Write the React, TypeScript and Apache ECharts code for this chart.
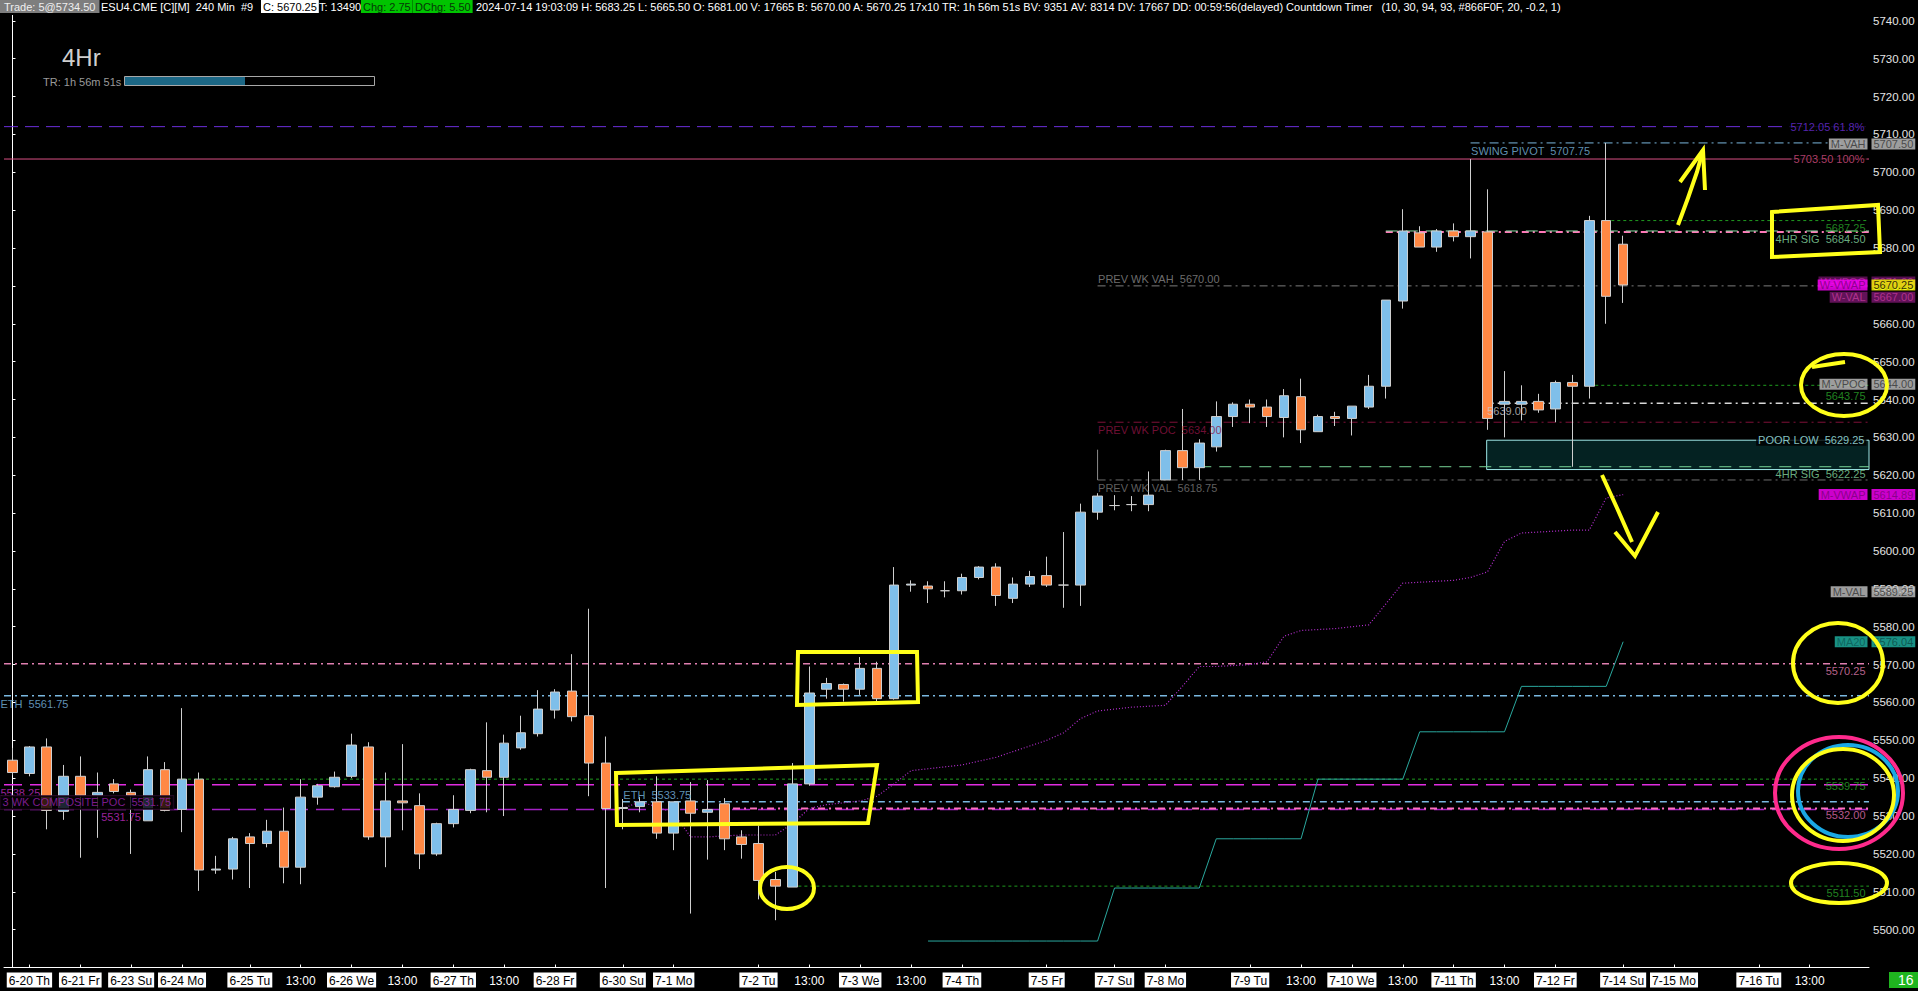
import React, { useEffect, useRef } from 'react';
import * as echarts from 'echarts';

const FONT = "'Liberation Sans Narrow', 'Arial Narrow', 'Liberation Sans', Arial, sans-serif";
const FS = 11;
const SLOT_COUNT = 110;
const RIGHT = SLOT_COUNT - 0.5;

// ---------- x axis labels (bar slot index -> label) ----------
const xTickSlots = [1, 4, 7, 10, 14, 17, 20, 23, 26, 29, 32, 36, 39, 44, 47, 50, 53, 56, 61, 65, 68, 73, 76, 79, 82, 85, 88, 91, 95, 98, 103, 106];
const xTickLabels = ['6-20 Th', '6-21 Fr', '6-23 Su', '6-24 Mo', '6-25 Tu', '13:00', '6-26 We', '13:00', '6-27 Th', '13:00', '6-28 Fr', '6-30 Su', '7-1 Mo', '7-2 Tu', '13:00', '7-3 We', '13:00', '7-4 Th', '7-5 Fr', '7-7 Su', '7-8 Mo', '7-9 Tu', '13:00', '7-10 We', '13:00', '7-11 Th', '13:00', '7-12 Fr', '7-14 Su', '7-15 Mo', '7-16 Tu', '13:00'];

// ---------- 240 min OHLC ----------
const opens = [5544.75, 5541.25, 5548.25, 5531.25, 5540.5, 5535.5, 5538.5, 5536.25, 5528.75, 5542.25, 5531.75, 5539.75, 5515.75, 5516, 5524.5, 5522.75, 5526, 5516.5, 5535, 5537.75, 5540.5, 5548.25, 5524.5, 5534, 5532.75, 5520, 5528, 5531.5, 5542, 5540.25, 5548, 5551.75, 5558, 5563, 5556.5, 5544, 5532, 5532.5, 5533.75, 5525.5, 5534, 5531, 5533.25, 5524.5, 5522.75, 5513.25, 5511.25, 5538.5, 5563.5, 5564.75, 5563.5, 5569, 5561, 5591, 5590.75, 5589.5, 5589.5, 5593, 5595.75, 5587.5, 5591.25, 5593.5, 5591, 5591, 5610.25, 5612, 5612.25, 5612.25, 5618.75, 5626.5, 5622, 5627.5, 5635.5, 5638.75, 5638, 5635.25, 5640.75, 5631.5, 5635.5, 5635, 5638, 5643.5, 5666, 5684, 5680.25, 5684.5, 5683, 5684.25, 5638.75, 5638.75, 5639.5, 5637.5, 5644.5, 5643.5, 5687.25, 5681];
const closes = [5541.5, 5548.25, 5531.5, 5540.5, 5535.5, 5536.25, 5536.5, 5535.5, 5542.25, 5531.5, 5539.75, 5515.75, 5516, 5524, 5522.75, 5526, 5516.5, 5535, 5538, 5540.25, 5548.75, 5524.5, 5534, 5533.5, 5520, 5528, 5531.75, 5542.25, 5540.25, 5549.25, 5552, 5558.25, 5562.75, 5556.25, 5544, 5532, 5532.25, 5533.75, 5525.5, 5533.75, 5530.75, 5531.75, 5524, 5522.5, 5513, 5511.5, 5538.5, 5562.5, 5565, 5563.5, 5569, 5561, 5591, 5591.25, 5590, 5589.5, 5593, 5595.75, 5588.25, 5591.25, 5593.25, 5591, 5591, 5610.25, 5614.5, 5612, 5612.25, 5614.75, 5626.5, 5622, 5628.5, 5635.5, 5638.75, 5638, 5635.5, 5641, 5632, 5635.5, 5635, 5638.25, 5643.5, 5666.25, 5684.5, 5680.25, 5684.5, 5683, 5684.5, 5635, 5639.5, 5639.5, 5637.25, 5644.5, 5643.5, 5687.25, 5667.25, 5670.25];
const lows = [5540.75, 5540.5, 5526.5, 5529, 5519, 5524.25, 5536, 5520, 5528.75, 5531.25, 5525.75, 5510.25, 5514.75, 5513.25, 5511, 5521.75, 5512.25, 5512, 5533, 5537.5, 5540, 5523.75, 5516.5, 5526.25, 5516, 5519.5, 5527, 5530.75, 5531, 5530, 5547.5, 5551, 5555.75, 5555, 5535.25, 5511, 5526.5, 5531, 5524, 5521, 5504.25, 5518.5, 5521, 5518.75, 5508, 5502.5, 5511.25, 5538, 5561, 5560.25, 5562, 5560.25, 5560.75, 5589.25, 5586.25, 5587.75, 5588.5, 5592.5, 5585.5, 5586.25, 5590.5, 5590.5, 5585, 5585.5, 5608.25, 5610.75, 5610.5, 5610.5, 5618.75, 5618.75, 5618.75, 5626.25, 5632.75, 5633.75, 5632.75, 5630, 5628.5, 5631.5, 5633, 5630.5, 5637.5, 5640.25, 5664, 5680.25, 5679, 5681.75, 5677.25, 5632, 5630, 5634.5, 5636.5, 5634, 5622.25, 5640.25, 5660, 5665.5];
const highs = [5548, 5548.5, 5550.5, 5543.5, 5545.75, 5541.5, 5539.75, 5537, 5545.75, 5544.25, 5558.5, 5541.5, 5519.5, 5524.5, 5525.5, 5529, 5532.25, 5539.75, 5538.5, 5541.75, 5551.75, 5549.5, 5541.5, 5549, 5536, 5528.25, 5535.5, 5542.5, 5554.75, 5551.5, 5556.5, 5563.25, 5563.5, 5572.75, 5584.75, 5551, 5534.5, 5535, 5540.5, 5533.75, 5539, 5539.5, 5534.75, 5526.25, 5527.5, 5515.25, 5544, 5569.5, 5566.5, 5565, 5572, 5570.75, 5595.75, 5592.25, 5592, 5592, 5594, 5596, 5596.75, 5593, 5594.75, 5598.5, 5605, 5612.5, 5615.25, 5614.75, 5614.5, 5621, 5626.75, 5637.5, 5629.5, 5639.5, 5639.25, 5640, 5640, 5642.75, 5645.5, 5636, 5636.75, 5638.25, 5646.5, 5666.25, 5690.25, 5685.75, 5685, 5686.5, 5703.5, 5695.5, 5647.5, 5643.75, 5641.5, 5645, 5646.5, 5688.5, 5707.75, 5683.25];

// ---------- indicator lines ----------
const ma20Start = 54;
const ma20Values = [5497, 5497, 5497, 5497, 5497, 5497, 5497, 5497, 5497, 5497, 5497, 5511, 5511, 5511, 5511, 5511, 5511, 5524, 5524, 5524, 5524, 5524, 5524, 5539.75, 5539.75, 5539.75, 5539.75, 5539.75, 5539.75, 5552.25, 5552.25, 5552.25, 5552.25, 5552.25, 5552.25, 5564.25, 5564.25, 5564.25, 5564.25, 5564.25, 5564.25, 5576.04];
const mvwapStart = 36;
const mvwapValues = [5532, 5533.75, 5532.5, 5530.75, 5524.5, 5524.5, 5524.75, 5525, 5525, 5525, 5528, 5532, 5533, 5533.5, 5534, 5535.25, 5538.5, 5542, 5542.5, 5543, 5543.5, 5544.5, 5545.5, 5547, 5548.5, 5550, 5552, 5555.75, 5557.75, 5558.25, 5558.75, 5559, 5559.25, 5564.25, 5569.5, 5569.5, 5569.75, 5570, 5570.75, 5577.5, 5579, 5579.25, 5579.5, 5580, 5580.5, 5586, 5591.5, 5591.75, 5592, 5592.25, 5593, 5594.5, 5602.5, 5604.75, 5605, 5605.25, 5605.5, 5605.5, 5614, 5614.89];

// ---------- horizontal levels ----------
const levelPrices = [5712.05, 5703.5, 5707.75, 5687.25, 5684.25, 5684.5, 5670, 5643.75, 5639, 5634, 5622.25, 5618.75, 5570.25, 5561.75, 5539.75, 5538.25, 5533.75, 5531.75, 5532, 5511.5];
const levelStartSlots = [-0.5, -0.5, 86, 94.3, 81, 81, 64, 93, 86.95, 64, 70, 64, -0.5, -0.5, 10, -0.5, 36, -0.5, 42.5, 46];
const levelTexts = ['5712.05 61.8%', '5703.50 100%', 'SWING PIVOT  5707.75', '5687.25', '', '4HR SIG  5684.50', 'PREV WK VAH  5670.00', '5643.75', '5639.00', 'PREV WK POC  5634.00', '4HR SIG  5622.25', 'PREV WK VAL  5618.75', '5570.25', 'ETH  5561.75', '5539.75', '5538.25', 'ETH  5533.75', '3 WK COMPOSITE POC  5531.75', '5532.00', '5511.50'];
const poorLow = [5629.25, 5621.5];
const poorLowStart = 86.95;
const poorLowText = 'POOR LOW  5629.25';

// ---------- right-edge boxes ----------
const boxNames = ['W-VPOC', 'M-VAH', 'W-VAL', 'W-VWAP', 'M-VPOC', 'M-VWAP', 'M-VAL', 'MA20'];
const boxPrices = [5671, 5707.5, 5667, 5670.25, 5644, 5614.89, 5589.25, 5576.04];

// styles (not data)
const levelStyles: any[] = [
  { color: '#6d2fdc', type: [14, 7], width: 1, place: 'endMid' },
  { color: '#d94f83', type: 'solid', width: 1, place: 'endMid' },
  { color: '#7ab6dd', type: [9, 4, 2, 4], width: 1, place: 'startBelow' },
  { color: '#1f9a1f', type: [3, 3], width: 1, place: 'endBelow', text: '#2aa52a' },
  { color: '#ff78b8', type: [7, 4, 2, 4], width: 2, place: 'none' },
  { color: '#86d9a0', type: [12, 8], width: 1, place: 'endBelow2' },
  { color: '#7c7c7c', type: [8, 4, 2, 4], width: 1, place: 'startAbove', text: '#8a8a8a' },
  { color: '#1f9a1f', type: [3, 3], width: 1, place: 'endBelow3', text: '#2aa52a' },
  { color: '#d8d8d8', type: [7, 4, 2, 4], width: 1.5, place: 'startBelow', text: '#c8c8c8' },
  { color: '#7e1038', type: [8, 4, 2, 4], width: 1, place: 'startBelow', text: '#8d1443' },
  { color: '#78d496', type: [12, 8], width: 1, place: 'endBelow', text: '#86d9a0' },
  { color: '#6e6e6e', type: [8, 4, 2, 4], width: 1, place: 'startBelow', text: '#7a7a7a' },
  { color: '#e07fb0', type: [7, 4, 2, 4], width: 1.5, place: 'endBelow' },
  { color: '#7ab8e0', type: [7, 4, 2, 4], width: 1.5, place: 'startBelow' },
  { color: '#1f9a1f', type: [3, 3], width: 1, place: 'endBelow', text: '#2aa52a' },
  { color: '#e22ce2', type: [18, 8], width: 1.5, place: 'startBelow', text: '#c22cc2' },
  { color: '#7ab8e0', type: [7, 4, 2, 4], width: 1.5, place: 'startAbove' },
  { color: '#a321c4', type: [18, 8], width: 1.5, place: 'startAboveBox', text: '#9a22b0' },
  { color: '#ff70c0', type: [7, 4, 2, 4], width: 2, place: 'endBelow', text: '#e070b0' },
  { color: '#1f9a1f', type: [3, 3], width: 1, place: 'endBelow', text: '#2aa52a' },
];
const boxStyles: any[] = [
  { bg: '#6a1262', fg: '#b4309c', vbg: '#6a1262', vfg: '#b4309c' },
  { bg: '#c4c4c4', fg: '#333333', vbg: '#c4c4c4', vfg: '#333333' },
  { bg: '#7a176f', fg: '#c23a9c', vbg: '#7a176f', vfg: '#c23a9c' },
  { bg: '#ff00ff', fg: '#7a007a', vbg: '#ffff00', vfg: '#000000' },
  { bg: '#c4c4c4', fg: '#333333', vbg: '#c4c4c4', vfg: '#333333' },
  { bg: '#ff00ff', fg: '#7a007a', vbg: '#ff00ff', vfg: '#7a007a' },
  { bg: '#c4c4c4', fg: '#333333', vbg: '#c4c4c4', vfg: '#333333' },
  { bg: '#1fb5a5', fg: '#0b5a55', vbg: '#1fb5a5', vfg: '#0b4a45' },
];

function lbl(x: number, y: number, text: string, color: string, place: string, extra: any = {}) {
  const label: any = { show: true, formatter: text, color, fontFamily: FONT, fontSize: FS };
  if (place === 'startAbove') Object.assign(label, { position: 'right', distance: 0, offset: [0, -7] });
  else if (place === 'startBelow') Object.assign(label, { position: 'right', distance: 0, offset: [0, 8] });
  else if (place === 'endBelow') Object.assign(label, { position: 'left', distance: 3, offset: [0, 7] });
  else if (place === 'endBelow2') Object.assign(label, { position: 'left', distance: 3, offset: [0, 8] });
  else if (place === 'endBelow3') Object.assign(label, { position: 'left', distance: 3, offset: [0, 11] });
  else if (place === 'endAbove') Object.assign(label, { position: 'left', distance: 3, offset: [0, -7] });
  else if (place === 'endMid') Object.assign(label, { position: 'left', distance: 2, backgroundColor: '#000', padding: [0, 2] });
  else if (place === 'startAboveBox') Object.assign(label, { position: 'right', distance: 0, offset: [-4, -7], backgroundColor: '#050005', borderColor: '#2a0a2a', borderWidth: 1, padding: [1, 2] });
  else if (place === 'boxName') Object.assign(label, { position: 'left', distance: 1, padding: [0, 2] });
  else if (place === 'boxValue') Object.assign(label, { position: 'right', distance: 2, padding: [0, 2] });
  Object.assign(label, extra);
  return { value: [x, y], label };
}

export default function App() {
  const ref = useRef<HTMLDivElement>(null);
  useEffect(() => {
    const chart = echarts.init(ref.current!, null, { renderer: 'svg' });

    const categories = Array.from({ length: SLOT_COUNT }, (_, i) => String(i));
    const tickMap: Record<number, string> = {};
    xTickSlots.forEach((s, i) => { tickMap[s] = xTickLabels[i]; });
    const showTick = (idx: number) => tickMap[idx] !== undefined;

    const candleData = opens.map((o, i) => [o, closes[i], lows[i], highs[i]]);

    const series: any[] = [];

    series.push({
      type: 'line', xAxisIndex: 1, data: [], z: 1, silent: true,
      markArea: {
        silent: true,
        itemStyle: { color: '#042222', borderColor: '#9fe9e9', borderWidth: 1 },
        data: [[{ coord: [poorLowStart, poorLow[0]] }, { coord: [RIGHT, poorLow[1]] }]],
      },
    });

    levelPrices.forEach((p, i) => {
      const st = levelStyles[i];
      series.push({
        type: 'line', xAxisIndex: 1, silent: true, symbol: 'none', z: 2,
        data: [[levelStartSlots[i], p], [RIGHT, p]],
        lineStyle: { color: st.color, type: st.type, width: st.width },
      });
    });

    series.push({
      type: 'line', xAxisIndex: 1, silent: true, symbol: 'none', z: 2,
      data: [[64, 5618.75], [64, 5626.75]],
      lineStyle: { color: '#8a8a8a', width: 1 },
    });

    series.push({
      type: 'line', xAxisIndex: 1, silent: true, symbol: 'none', z: 3,
      data: mvwapValues.map((v, i) => [mvwapStart + i, v]),
      lineStyle: { color: '#b52ed0', type: [1, 2], width: 1.2 },
    });
    series.push({
      type: 'line', xAxisIndex: 1, silent: true, symbol: 'none', z: 3,
      data: ma20Values.map((v, i) => [ma20Start + i, v]),
      lineStyle: { color: '#2aa89e', width: 1 },
    });

    series.push({
      type: 'candlestick', xAxisIndex: 0, yAxisIndex: 0, z: 5, barWidth: 10,
      data: candleData,
      itemStyle: { color: '#7fbfea', color0: '#ff8844', borderColor: '#cfcfcf', borderColor0: '#cfcfcf', borderWidth: 1 },
    });

    const texts: any[] = [];
    levelPrices.forEach((p, i) => {
      const st = levelStyles[i];
      if (!levelTexts[i] || st.place === 'none') return;
      const col = st.text || st.color;
      const x = st.place.startsWith('start') ? levelStartSlots[i] : RIGHT;
      const extra: any = {};
      if (levelStartSlots[i] === -0.5 && st.place.startsWith('start')) extra.offset = [-4, st.place === 'startBelow' ? 8 : -7];
      texts.push(lbl(x, p, levelTexts[i], col, st.place, extra));
    });
    texts.push(lbl(5.2, 5531.75, '5531.75', '#c42cc4', 'startBelow'));
    texts.push(lbl(RIGHT, poorLow[0], poorLowText, '#a8f0f0', 'endMid'));

    boxNames.forEach((n, i) => {
      const st = boxStyles[i];
      texts.push(lbl(RIGHT, boxPrices[i], n, st.fg, 'boxName', { backgroundColor: st.bg }));
      texts.push(lbl(RIGHT, boxPrices[i], boxPrices[i].toFixed(2), st.vfg, 'boxValue', { backgroundColor: st.vbg }));
    });

    series.push({
      type: 'scatter', xAxisIndex: 1, silent: true, z: 20, symbolSize: 1, clip: false,
      itemStyle: { color: 'rgba(0,0,0,0)' },
      data: texts,
    });

    const Y = '#ffff1a';
    const annot = (type: string, shape: any, stroke: string) => ({ type, z: 100, shape, style: { stroke, lineWidth: 4, fill: null } });

    const headerFont = `11px ${FONT}`;
    const header = [
      { x: 0, t: 'Trade: 5@5734.50', bg: '#7e7e7e', c: '#eeeeee', p: [1, 4] },
      { x: 99, t: 'ESU4.CME [C][M]  240 Min  #9', bg: null, c: '#ffffff', p: [1, 2] },
      { x: 261, t: 'C: 5670.25', bg: '#ffffff', c: '#000000', p: [1, 2] },
      { x: 317, t: 'T: 13490', bg: null, c: '#ffffff', p: [1, 2] },
      { x: 361, t: 'Chg: 2.75', bg: '#00c400', c: '#063806', p: [1, 2] },
      { x: 413, t: 'DChg: 5.50', bg: '#00c400', c: '#063806', p: [1, 2] },
      { x: 474, t: '2024-07-14 19:03:09 H: 5683.25 L: 5665.50 O: 5681.00 V: 17665 B: 5670.00 A: 5670.25 17x10 TR: 1h 56m 51s BV: 9351 AV: 8314 DV: 17667 DD: 00:59:56(delayed) Countdown Timer   (10, 30, 94, 93, #866F0F, 20, -0.2, 1)', bg: null, c: '#ffffff', p: [1, 2] },
    ];

    const graphic: any[] = [
      { type: 'rect', z: 90, shape: { x: 0, y: 0, width: 1600, height: 15 }, style: { fill: '#000' } },
      ...header.map((h) => ({
        type: 'text', z: 95, x: h.x, y: 0,
        style: { text: h.t, font: headerFont, fill: h.c, backgroundColor: h.bg || undefined, padding: h.p, textVerticalAlign: 'top' },
      })),
      { type: 'text', z: 95, x: 62, y: 45, style: { text: '4Hr', font: `24px 'Liberation Sans', Arial, sans-serif`, fill: '#cfcfcf', textVerticalAlign: 'top' } },
      { type: 'text', z: 95, x: 43, y: 76, style: { text: 'TR: 1h 56m 51s', font: `11px ${FONT}`, fill: '#9a9a9a', textVerticalAlign: 'top' } },
      { type: 'rect', z: 95, shape: { x: 124.5, y: 76.5, width: 250, height: 9 }, style: { fill: '#000', stroke: '#a8a8a8', lineWidth: 1 } },
      { type: 'rect', z: 96, shape: { x: 125, y: 77, width: 120, height: 8 }, style: { fill: '#1c6785' } },
      { type: 'text', z: 95, x: 1889, y: 972, style: { text: '16', font: `14px ${FONT}`, fill: '#ffffff', backgroundColor: '#1fb51f', padding: [1, 9, 1, 9], textVerticalAlign: 'top' } },
      annot('polygon', { points: [[616, 773], [877, 765], [868, 823], [617, 825]] }, Y),
      annot('polygon', { points: [[798, 652], [917, 652], [918, 702], [797, 705]] }, Y),
      annot('ellipse', { cx: 787, cy: 888, rx: 27, ry: 21 }, Y),
      annot('polyline', { points: [[1678, 225], [1688, 198], [1697, 172], [1703, 150]] }, Y),
      annot('polyline', { points: [[1680, 182], [1703, 150], [1705, 190]] }, Y),
      annot('polyline', { points: [[1602, 475], [1617, 508], [1632, 542]] }, Y),
      annot('polyline', { points: [[1615, 532], [1635, 556], [1658, 512]] }, Y),
      annot('polygon', { points: [[1772, 212], [1878, 205], [1880, 252], [1772, 257]] }, Y),
      annot('ellipse', { cx: 1844, cy: 385, rx: 43, ry: 31 }, Y),
      annot('polyline', { points: [[1812, 367], [1845, 362]] }, Y),
      annot('ellipse', { cx: 1838, cy: 663, rx: 45, ry: 40 }, Y),
      annot('ellipse', { cx: 1839, cy: 793, rx: 64, ry: 56 }, '#ff2a8c'),
      annot('ellipse', { cx: 1848, cy: 791, rx: 50, ry: 46 }, '#1aa8e4'),
      annot('ellipse', { cx: 1843, cy: 795, rx: 51, ry: 46 }, Y),
      annot('ellipse', { cx: 1839, cy: 883, rx: 48, ry: 20 }, Y),
    ];

    const option: any = {
      animation: false,
      backgroundColor: '#000000',
      textStyle: { fontFamily: FONT },
      grid: { left: 4, right: 49, top: 1.865, bottom: 23.45 },
      xAxis: [
        {
          type: 'category', data: categories, boundaryGap: true,
          axisLine: { show: true, lineStyle: { color: '#ffffff', width: 1 } },
          axisTick: { show: true, inside: true, length: 3, alignWithLabel: true, interval: (i: number) => showTick(i), lineStyle: { color: '#ffffff' } },
          axisLabel: {
            interval: (i: number) => showTick(i),
            margin: 5,
            formatter: (_v: string, i: number) => {
              const t = tickMap[i] || '';
              return t.includes(':') ? `{t|${t}}` : `{d|${t}}`;
            },
            rich: {
              d: { backgroundColor: '#ffffff', color: '#000000', padding: [2, 2, 1, 2], fontFamily: FONT, fontSize: 12 },
              t: { color: '#ffffff', fontFamily: FONT, fontSize: 12, padding: [2, 2, 1, 2] },
            },
          },
          splitLine: { show: false },
        },
        { type: 'value', min: -0.5, max: RIGHT, show: false },
      ],
      yAxis: {
        type: 'value', position: 'right', min: 5490, max: 5745, interval: 10,
        axisLine: { show: true, lineStyle: { color: '#ffffff' } },
        axisTick: { show: true, length: 3, lineStyle: { color: '#ffffff' } },
        axisLabel: { color: '#e4e4e4', fontFamily: FONT, fontSize: 11.5, margin: 4, showMaxLabel: false, showMinLabel: false, formatter: (v: number) => v.toFixed(2) },
        splitLine: { show: false },
      },
      series,
      graphic,
    };
    chart.setOption(option);
    return () => chart.dispose();
  }, []);
  return <div ref={ref} style={{ position: 'fixed', left: 0, top: 0, width: 1918, height: 991, background: '#000' }} />;
}
